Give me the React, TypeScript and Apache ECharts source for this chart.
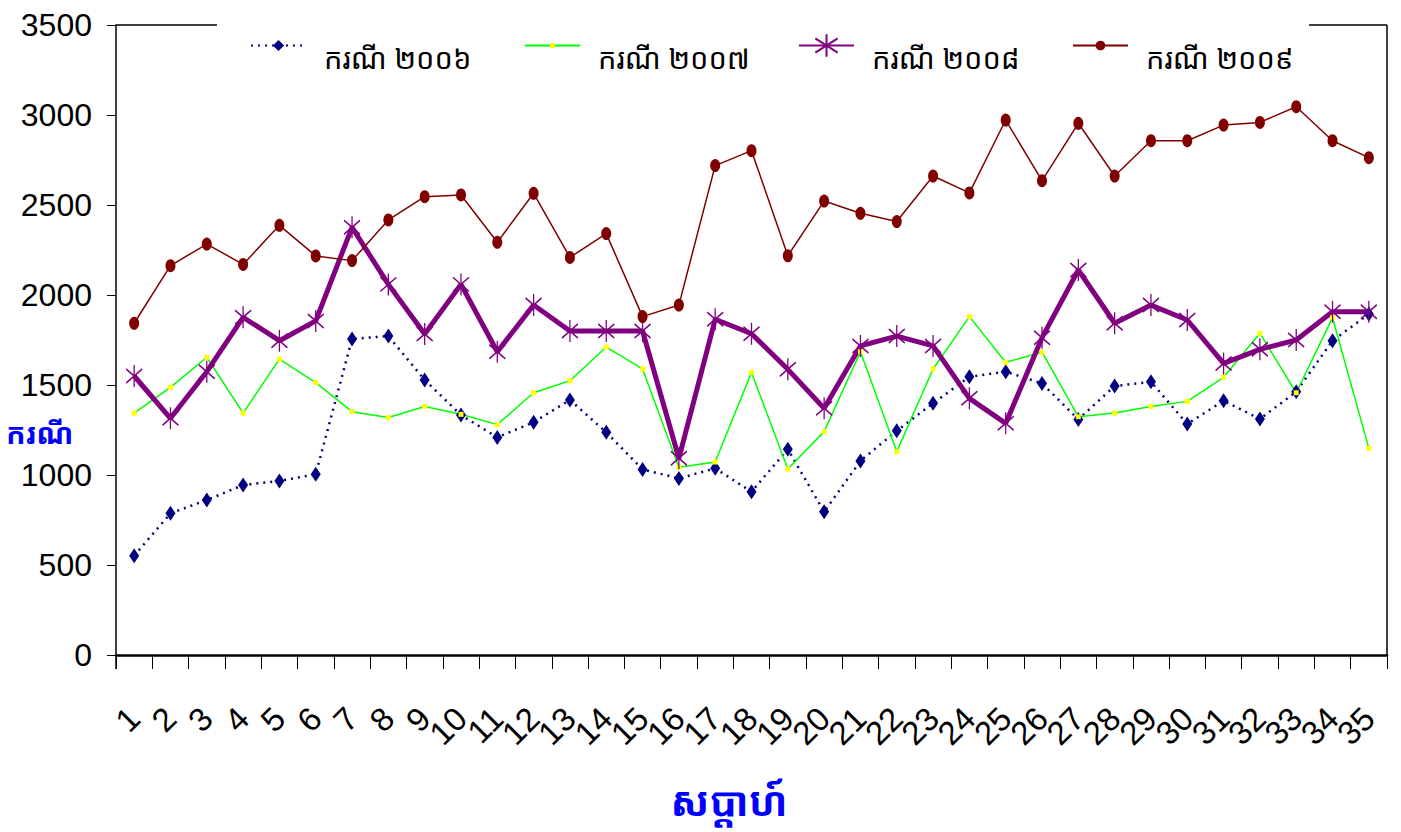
import React, { useEffect, useRef } from 'react';
import * as echarts from 'echarts';

const weeks = ['1','2','3','4','5','6','7','8','9','10','11','12','13','14','15','16','17','18','19','20','21','22','23','24','25','26','27','28','29','30','31','32','33','34','35'];

const names = ['ករណី ២០០៦', 'ករណី ២០០៧', 'ករណី ២០០៨', 'ករណី ២០០៩'];

const cases2006 = [552, 787, 861, 944, 967, 1004, 1756, 1772, 1528, 1333, 1209, 1293, 1417, 1237, 1031, 981, 1037, 907, 1143, 796, 1078, 1246, 1398, 1546, 1574, 1509, 1309, 1494, 1518, 1283, 1413, 1311, 1463, 1746, 1894];
const cases2007 = [1344, 1487, 1654, 1344, 1644, 1513, 1352, 1319, 1381, 1337, 1280, 1457, 1524, 1711, 1589, 1043, 1072, 1570, 1033, 1241, 1685, 1130, 1589, 1880, 1626, 1682, 1324, 1344, 1381, 1409, 1543, 1787, 1457, 1874, 1148];
const cases2008 = [1550, 1315, 1574, 1876, 1746, 1856, 2376, 2059, 1783, 2059, 1685, 1944, 1800, 1800, 1800, 1093, 1865, 1785, 1587, 1371, 1717, 1772, 1717, 1426, 1287, 1763, 2139, 1843, 1944, 1861, 1620, 1698, 1750, 1907, 1907];
const cases2009 = [1843, 2163, 2283, 2170, 2387, 2217, 2191, 2417, 2546, 2556, 2293, 2565, 2209, 2341, 1880, 1944, 2719, 2802, 2218, 2522, 2454, 2408, 2661, 2567, 2972, 2635, 2954, 2661, 2857, 2857, 2944, 2959, 3046, 2857, 2763];

const yTicks = { min: 0, max: 3500, interval: 500 };

const khmerFont = '"Noto Sans Khmer", "Khmer OS", "Noto Serif Khmer", serif';
const numFont = '"Liberation Sans Narrow", "Arial Narrow", "Liberation Sans", sans-serif';

const ASTERISK = 'path://M8,0L8,22M0,4L16,18M0,18L16,4';

export default function App() {
  const ref = useRef<HTMLDivElement>(null);
  useEffect(() => {
    if (!ref.current) return;
    const chart = echarts.init(ref.current, null, { renderer: 'svg' });
    const gridL = 116, gridR = 14, gridT = 25, gridB = 177;
    const W = 1401;
    const legendLeft = [250, 524, 798, 1072];
    const legendH = [14, 6, 28, 12];
    const mkLegend = (i: number) => ({
      data: [names[i]],
      left: legendLeft[i],
      top: 19,
      padding: 0,
      itemWidth: 55,
      itemHeight: legendH[i],
      selectedMode: false,
      formatter: '{a|{name}}',
      textStyle: {
        fontFamily: khmerFont, fontSize: 29, color: '#000',
        rich: { a: { fontFamily: khmerFont, fontSize: 29, lineHeight: 36, color: '#000', padding: [24, 0, 0, 13] } },
      },
    });
    chart.setOption({
      animation: false,
      backgroundColor: '#fff',
      grid: { left: gridL, right: gridR, top: gridT, bottom: gridB, containLabel: false },
      legend: [0, 1, 2, 3].map(mkLegend),
      xAxis: {
        type: 'category',
        data: weeks,
        boundaryGap: true,
        axisLine: { lineStyle: { color: '#000', width: 2.5 } },
        axisTick: { show: true, length: 14, lineStyle: { color: '#000', width: 1 }, alignWithLabel: false },
        axisLabel: { rotate: 45, interval: 0, margin: 58, fontFamily: numFont, fontSize: 33, color: '#000' },
        splitLine: { show: false },
      },
      yAxis: {
        type: 'value',
        min: yTicks.min,
        max: yTicks.max,
        interval: yTicks.interval,
        axisLine: { show: true, lineStyle: { color: '#000', width: 1.5 } },
        axisTick: { show: true, length: 9, lineStyle: { color: '#000', width: 1 } },
        axisLabel: { margin: 24, fontFamily: numFont, fontSize: 32, color: '#000', formatter: (v: number) => String(v) },
        splitLine: { show: false },
      },
      graphic: [
        { type: 'line', shape: { x1: gridL, y1: gridT, x2: 217, y2: gridT }, style: { stroke: '#000', lineWidth: 1.5 }, z: 10 },
        { type: 'line', shape: { x1: 1309, y1: gridT, x2: W - gridR, y2: gridT }, style: { stroke: '#000', lineWidth: 1.5 }, z: 10 },
        { type: 'line', shape: { x1: W - gridR, y1: gridT, x2: W - gridR, y2: 655 }, style: { stroke: '#000', lineWidth: 1.5 }, z: 10 },
        { type: 'line', shape: { x1: gridL, y1: 655, x2: gridL, y2: 669 }, style: { stroke: '#000', lineWidth: 1.5 }, z: 10 },
        { type: 'text', left: 6, top: 418, style: { text: 'ករណី', fontFamily: khmerFont, fontSize: 29, fontWeight: 'bold', fill: '#0000ff' } },
        { type: 'text', x: 729, y: 800, style: { text: 'សប្តាហ៍', fontFamily: khmerFont, fontSize: 40, fontWeight: 'bold', fill: '#0000ff', align: 'center', verticalAlign: 'middle' } },
      ],
      series: [
        {
          name: names[0], type: 'line', data: cases2006,
          symbol: 'diamond', symbolSize: [10, 15], showAllSymbol: true,
          lineStyle: { color: '#000080', width: 2.5, type: [2, 5] },
          itemStyle: { color: '#000080' },
        },
        {
          name: names[1], type: 'line', data: cases2007,
          symbol: 'rect', symbolSize: 5, showAllSymbol: true,
          lineStyle: { color: '#00ff00', width: 1.5 },
          itemStyle: { color: '#ffff00' },
        },
        {
          name: names[2], type: 'line', data: cases2008,
          symbol: ASTERISK, symbolSize: [16, 22], showAllSymbol: true,
          lineStyle: { color: '#800080', width: 5 },
          itemStyle: { color: 'rgba(0,0,0,0)', borderColor: '#800080', borderWidth: 1.5 },
        },
        {
          name: names[3], type: 'line', data: cases2009,
          symbol: 'circle', symbolSize: [10, 13], showAllSymbol: true,
          lineStyle: { color: '#800000', width: 1.5 },
          itemStyle: { color: '#800000' },
        },
      ],
    });
    return () => chart.dispose();
  }, []);
  return <div ref={ref} style={{ position: 'fixed', left: 0, top: 0, width: 1401, height: 832 }} />;
}
